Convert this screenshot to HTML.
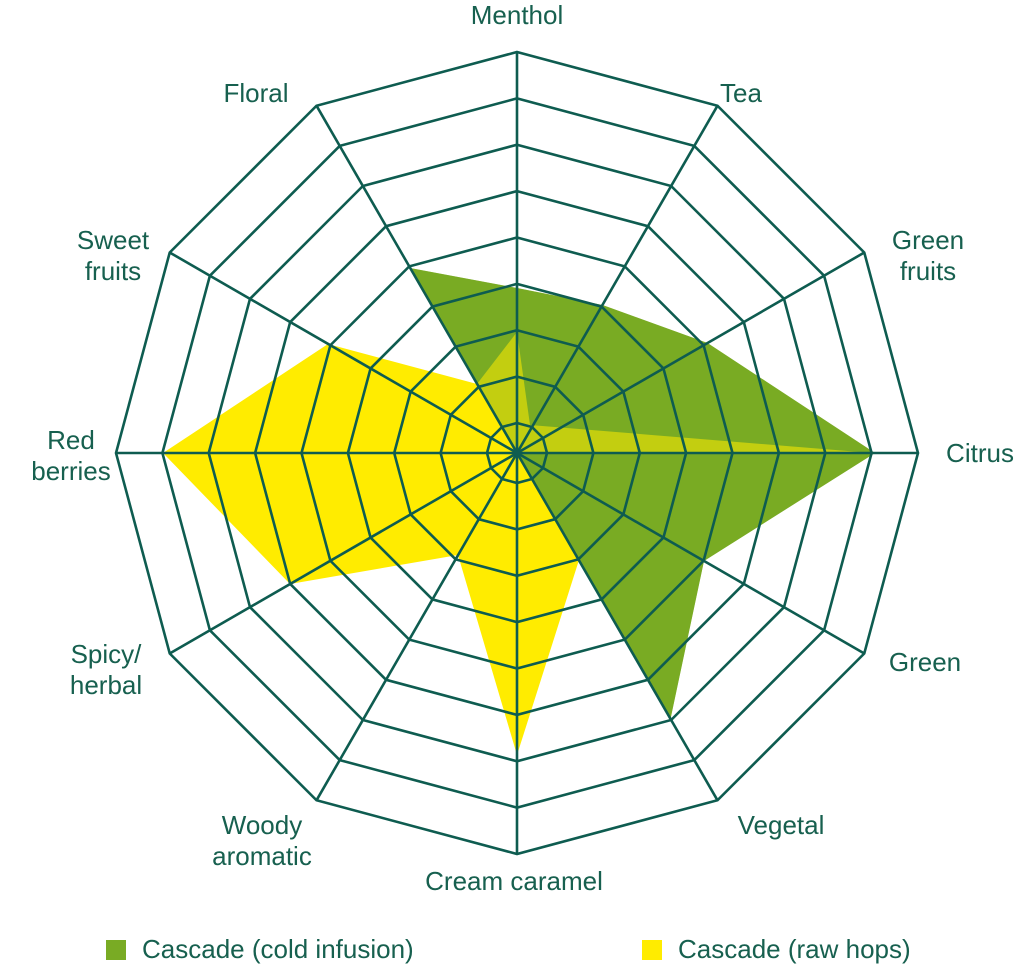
<!DOCTYPE html>
<html><head><meta charset="utf-8"><style>
body{margin:0;background:#fff;width:1024px;height:973px;overflow:hidden;position:relative;font-family:"Liberation Sans",sans-serif;color:#17604f}
.l{position:absolute;font-size:26px;line-height:31px;text-align:center;white-space:nowrap}
.sq{position:absolute;width:20px;height:20px}
</style></head><body>
<svg width="1024" height="973" style="position:absolute;left:0;top:0">
<g transform="translate(517,453)">
<polygon fill="#79ab24" points="-107,-185 0,-165 85.5,-148 190.5,-110 358,0 187,108 153.5,266 0,0"/>
<polygon fill="#ffec00" points="0,-121 13,-28 355,0 0,0 62,107 0,302 -59,102 -227,131 -354,0 -189,-109 -40,-69"/>
<polygon fill="#79ab24" fill-opacity="0.45" points="-107,-185 0,-165 85.5,-148 190.5,-110 358,0 187,108 153.5,266 0,0"/>
<g fill="none" stroke="#0e5c50" stroke-width="2.6">
<polygon vector-effect="non-scaling-stroke" transform="scale(30)" points="0,-1 .5,-.866 .866,-.5 1,0 .866,.5 .5,.866 0,1 -.5,.866 -.866,.5 -1,0 -.866,-.5 -.5,-.866"/>
<polygon vector-effect="non-scaling-stroke" transform="scale(76.4)" points="0,-1 .5,-.866 .866,-.5 1,0 .866,.5 .5,.866 0,1 -.5,.866 -.866,.5 -1,0 -.866,-.5 -.5,-.866"/>
<polygon vector-effect="non-scaling-stroke" transform="scale(122.8)" points="0,-1 .5,-.866 .866,-.5 1,0 .866,.5 .5,.866 0,1 -.5,.866 -.866,.5 -1,0 -.866,-.5 -.5,-.866"/>
<polygon vector-effect="non-scaling-stroke" transform="scale(169.1)" points="0,-1 .5,-.866 .866,-.5 1,0 .866,.5 .5,.866 0,1 -.5,.866 -.866,.5 -1,0 -.866,-.5 -.5,-.866"/>
<polygon vector-effect="non-scaling-stroke" transform="scale(215.5)" points="0,-1 .5,-.866 .866,-.5 1,0 .866,.5 .5,.866 0,1 -.5,.866 -.866,.5 -1,0 -.866,-.5 -.5,-.866"/>
<polygon vector-effect="non-scaling-stroke" transform="scale(261.9)" points="0,-1 .5,-.866 .866,-.5 1,0 .866,.5 .5,.866 0,1 -.5,.866 -.866,.5 -1,0 -.866,-.5 -.5,-.866"/>
<polygon vector-effect="non-scaling-stroke" transform="scale(308.3)" points="0,-1 .5,-.866 .866,-.5 1,0 .866,.5 .5,.866 0,1 -.5,.866 -.866,.5 -1,0 -.866,-.5 -.5,-.866"/>
<polygon vector-effect="non-scaling-stroke" transform="scale(354.6)" points="0,-1 .5,-.866 .866,-.5 1,0 .866,.5 .5,.866 0,1 -.5,.866 -.866,.5 -1,0 -.866,-.5 -.5,-.866"/>
<polygon vector-effect="non-scaling-stroke" transform="scale(401)" points="0,-1 .5,-.866 .866,-.5 1,0 .866,.5 .5,.866 0,1 -.5,.866 -.866,.5 -1,0 -.866,-.5 -.5,-.866"/>
<line x1="0" y1="-401" x2="0" y2="401"/>
<line x1="-401" y1="0" x2="401" y2="0"/>
<line x1="200.5" y1="-347.3" x2="-200.5" y2="347.3"/>
<line x1="-200.5" y1="-347.3" x2="200.5" y2="347.3"/>
<line x1="347.3" y1="-200.5" x2="-347.3" y2="200.5"/>
<line x1="-347.3" y1="-200.5" x2="347.3" y2="200.5"/>
</g>
<circle r="4" fill="#0e5c50"/>
</g>
</svg>
<div class="l" style="left:417px;top:0px;width:200px">Menthol</div>
<div class="l" style="left:691px;top:78px;width:100px">Tea</div>
<div class="l" style="left:196px;top:78px;width:120px">Floral</div>
<div class="l" style="left:868px;top:225px;width:120px">Green<br>fruits</div>
<div class="l" style="left:53px;top:225px;width:120px">Sweet<br>fruits</div>
<div class="l" style="left:930px;top:438px;width:100px">Citrus</div>
<div class="l" style="left:11px;top:425px;width:120px">Red<br>berries</div>
<div class="l" style="left:865px;top:647px;width:120px">Green</div>
<div class="l" style="left:46px;top:639px;width:120px">Spicy/<br>herbal</div>
<div class="l" style="left:721px;top:810px;width:120px">Vegetal</div>
<div class="l" style="left:192px;top:810px;width:140px">Woody<br>aromatic</div>
<div class="l" style="left:394px;top:866px;width:240px">Cream caramel</div>
<div class="sq" style="left:106px;top:940px;background:#79ab24"></div>
<div class="l" style="left:142px;top:934px;text-align:left">Cascade (cold infusion)</div>
<div class="sq" style="left:642px;top:940px;background:#ffec00"></div>
<div class="l" style="left:678px;top:934px;text-align:left">Cascade (raw hops)</div>
</body></html>
